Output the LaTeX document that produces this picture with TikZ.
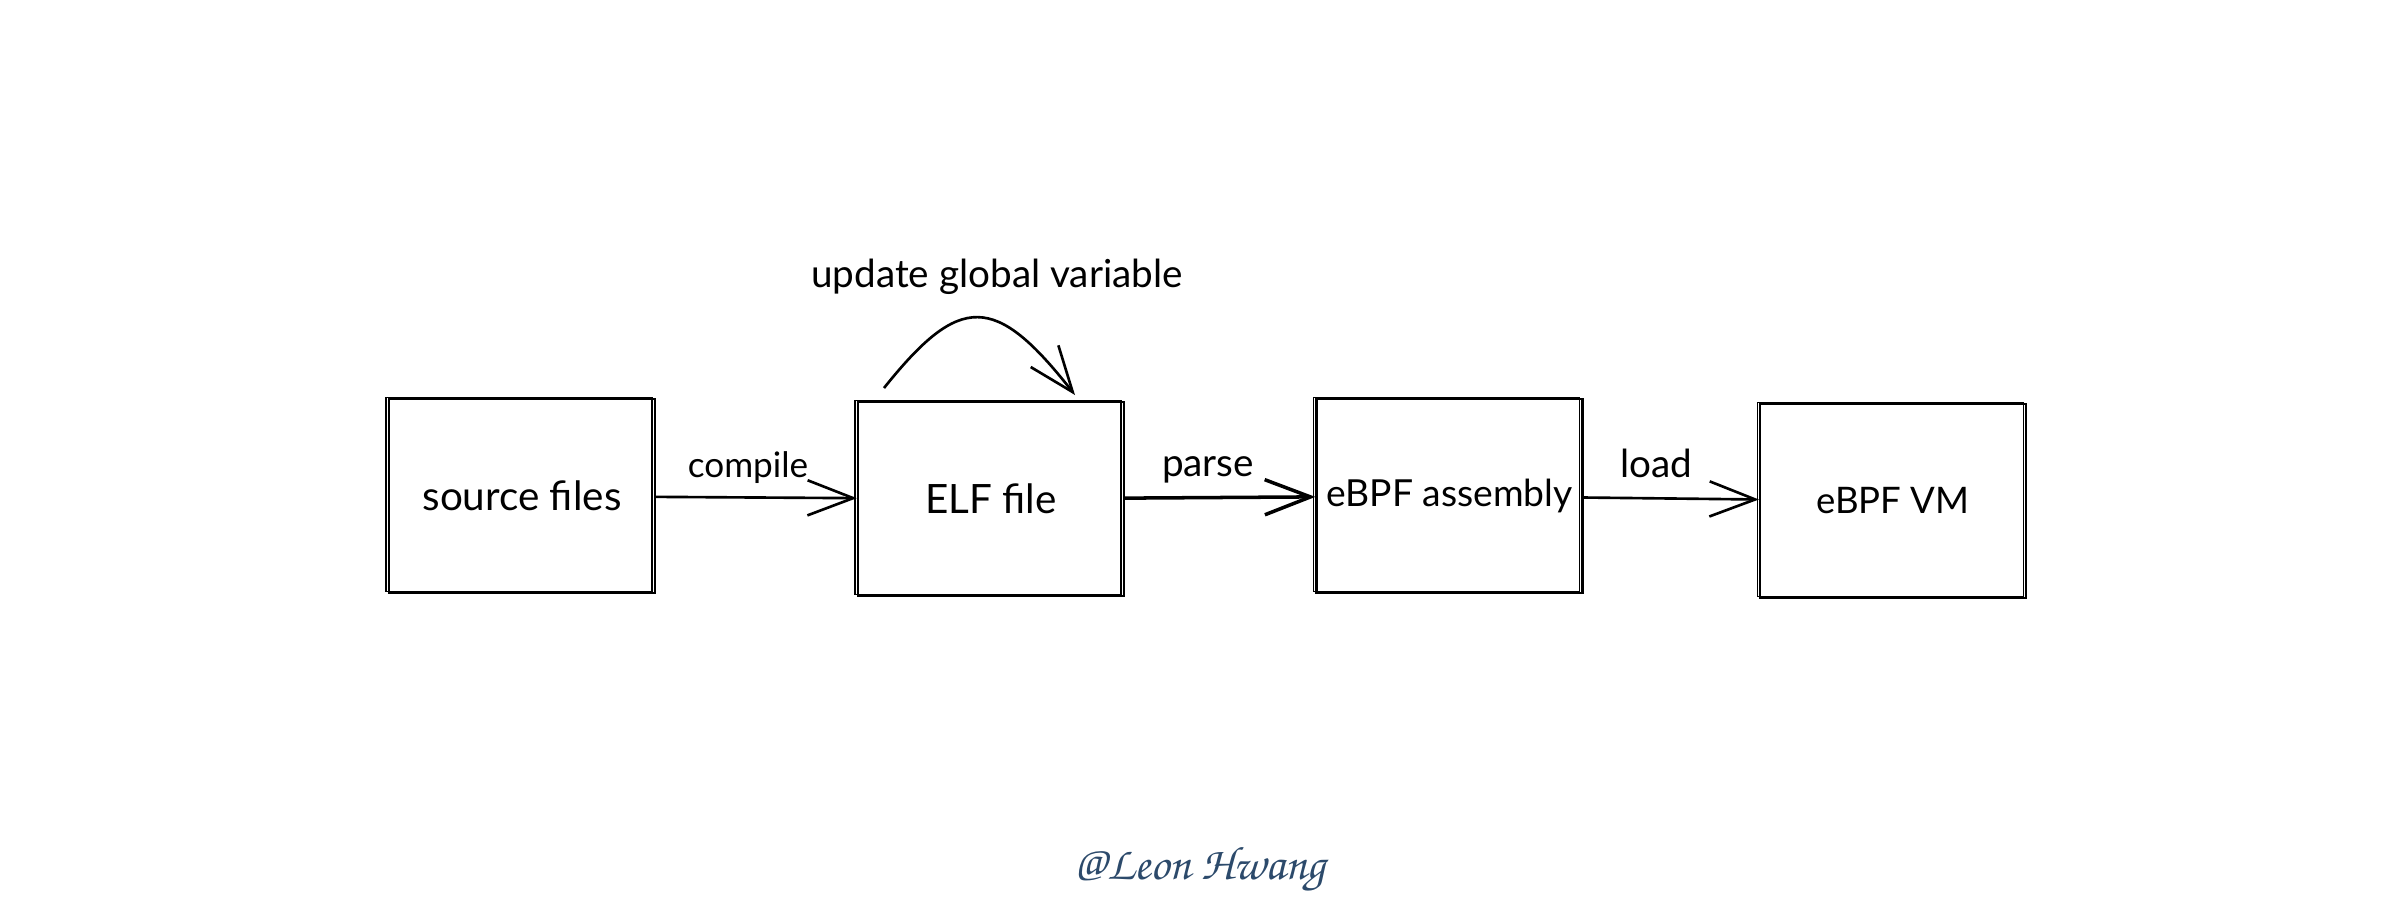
\documentclass[tikz,border=0pt]{standalone}
\usepackage[T1,TU]{fontenc}
\usepackage{fontspec}
\setmainfont{Lato}
\usetikzlibrary{arrows.meta}
\definecolor{signcolor}{HTML}{2C4A6B}
\tikzset{
    sketchbox/.style={draw,line width=.65pt,minimum width=2.66cm,minimum height=1.94cm,inner sep=0pt,
        font=\fontsize{11.5}{14}\selectfont,
        preaction={draw,line width=.4pt,transform canvas={xshift=-.8pt,yshift=.5pt}}},
    steplabel/.style={font=\fontsize{11}{13}\selectfont}
}
\begin{document}
\begin{tikzpicture}[line width=.75pt,>={Straight Barb[length=13pt,width=10pt]}]
    \useasboundingbox(0,0)rectangle(23.98,9.08);
    \node[sketchbox](source)at(5.22,4.12){source files};
    \node[sketchbox](elf)at(9.91,4.09){ELF file};
    \node[sketchbox,font=\fontsize{10.6}{14}\selectfont](assembly)at(14.495,4.12){eBPF assembly};
    \node[sketchbox,font=\fontsize{10.4}{14}\selectfont](vm)at(18.93,4.07){eBPF VM};
    \draw[->](source)--(elf);
    \draw[->,line width=1pt](elf)--(assembly);
    \draw[->](assembly)--(vm);
    \coordinate(loopout)at(8.84,5.20);
    \coordinate(loopin)at(10.75,5.13);
    \draw[->](loopout)..controls(9.6,6.15)and(9.95,6.15)..(loopin);
    \node[steplabel,font=\fontsize{10}{13}\selectfont](compile)at(7.48,4.40){compile};
    \node[steplabel](parse)at(12.08,4.38){parse};
    \node[steplabel](load)at(16.56,4.45){load};
    \node[steplabel](update)at(9.97,6.31){update global variable};
    \node[text=signcolor,font=\fontencoding{T1}\fontfamily{pzc}\fontshape{it}\fontsize{13.4}{16}\selectfont](sign)at(12.0,0.38){@Leon Hwang};
\end{tikzpicture}
\end{document}
